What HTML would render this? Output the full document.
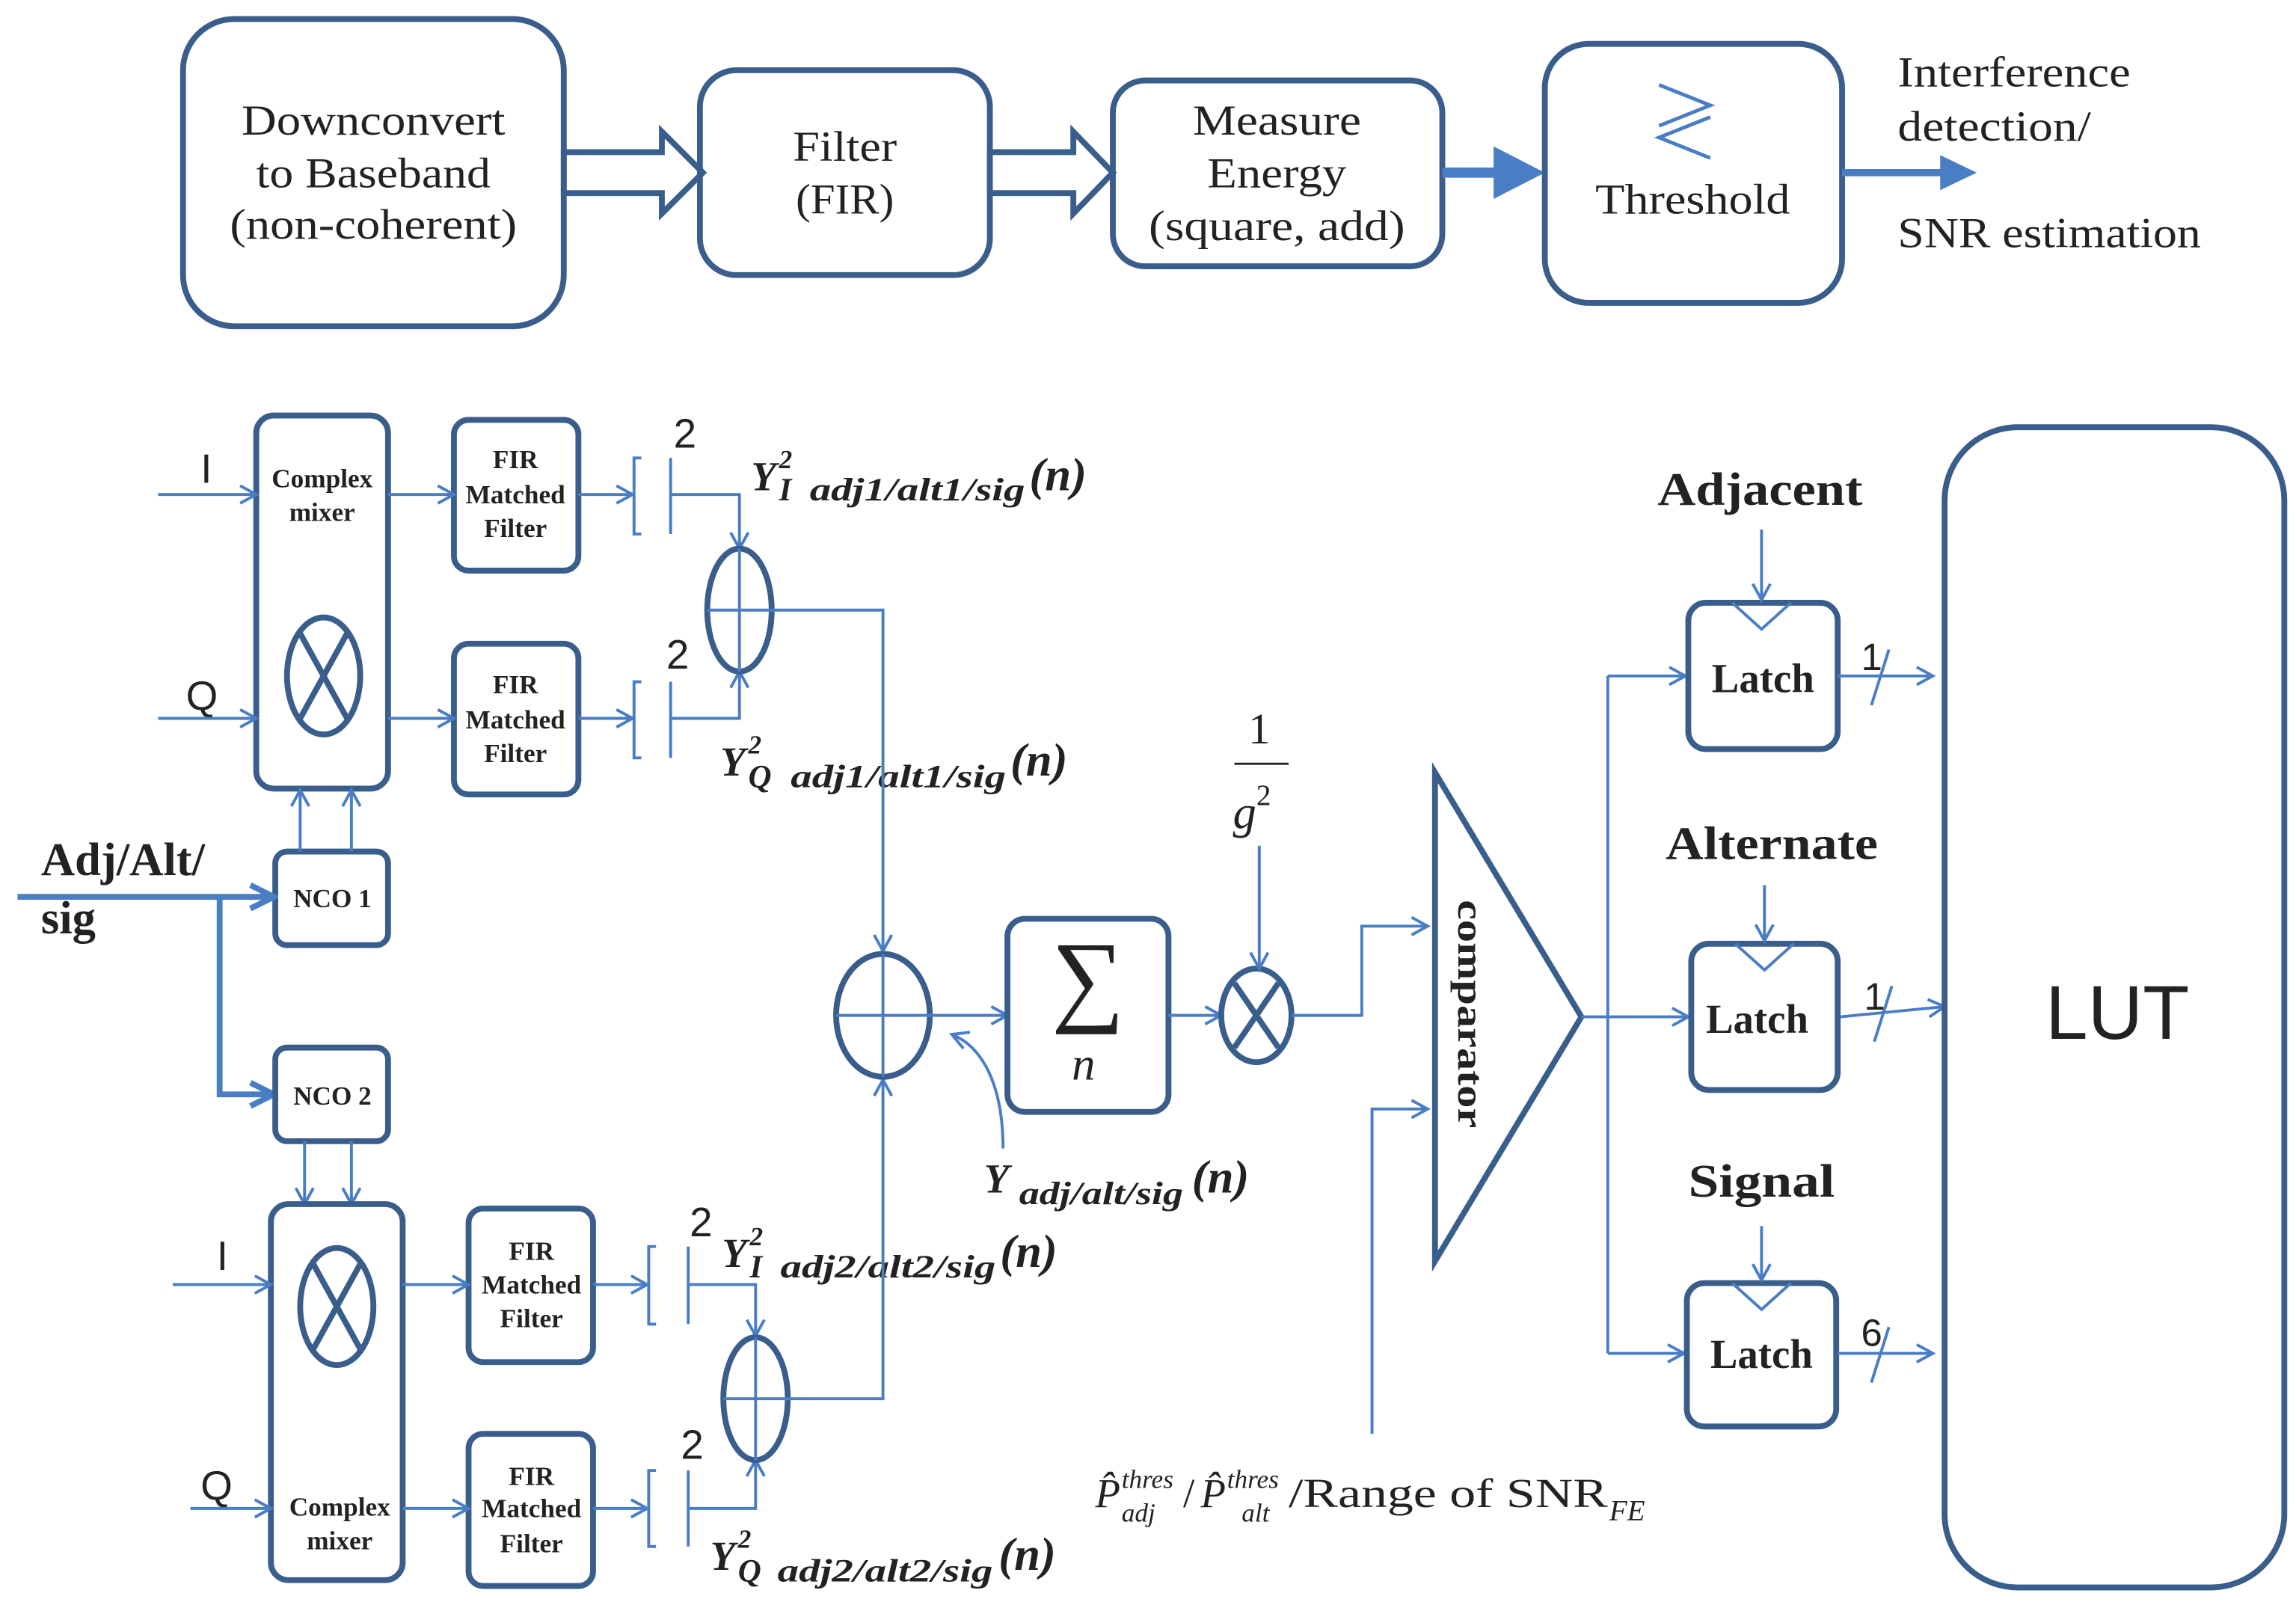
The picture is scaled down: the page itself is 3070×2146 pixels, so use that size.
<!DOCTYPE html>
<html><head><meta charset="utf-8"><style>
html,body{margin:0;padding:0;background:#fff;}
svg{display:block;}
.bx{fill:none;stroke:#3a5e8c;stroke-width:4;}
.ln{fill:none;stroke:#4a7ec4;stroke-width:2;}
.t{font-family:"Liberation Serif",serif;fill:#222;}
.s{font-family:"Liberation Sans",sans-serif;fill:#222;}
.y{font-family:"Liberation Serif",serif;fill:#222;font-weight:bold;font-style:italic;}
</style></head><body>
<svg width="3070" height="2146" viewBox="0 0 1568 1097" preserveAspectRatio="none" xmlns="http://www.w3.org/2000/svg">
<defs>
<marker id="a" markerWidth="14" markerHeight="14" refX="12" refY="7" orient="auto" markerUnits="userSpaceOnUse">
<path d="M1,1 L12,7 L1,13" fill="none" stroke="#4a7ec4" stroke-width="2"/></marker>
<marker id="b" markerWidth="20" markerHeight="20" refX="16" refY="10" orient="auto" markerUnits="userSpaceOnUse">
<path d="M1,2 L17,10 L1,18" fill="none" stroke="#4a7ec4" stroke-width="4"/></marker>
</defs>
<!-- top row -->
<rect class="bx" x="125" y="13" width="260" height="210" rx="35"/>
<text class="t" font-size="29" text-anchor="middle" x="255" y="92" textLength="180" lengthAdjust="spacingAndGlyphs">Downconvert</text>
<text class="t" font-size="29" text-anchor="middle" x="255" y="128" textLength="160" lengthAdjust="spacingAndGlyphs">to Baseband</text>
<text class="t" font-size="29" text-anchor="middle" x="255" y="163" textLength="196" lengthAdjust="spacingAndGlyphs">(non-coherent)</text>
<path class="bx" stroke-width="3" d="M385,104 H452 V90 L480,118 L452,146 V132 H385 Z"/>
<rect class="bx" x="478" y="48" width="198" height="140" rx="25"/>
<text class="t" font-size="29" text-anchor="middle" x="577" y="110" textLength="71" lengthAdjust="spacingAndGlyphs">Filter</text>
<text class="t" font-size="29" text-anchor="middle" x="577" y="146" textLength="67" lengthAdjust="spacingAndGlyphs">(FIR)</text>
<path class="bx" stroke-width="3" d="M676,104 H733 V90 L760,118 L733,146 V132 H676 Z"/>
<rect class="bx" x="760" y="55" width="225" height="127" rx="22"/>
<text class="t" font-size="29" text-anchor="middle" x="872" y="92" textLength="115" lengthAdjust="spacingAndGlyphs">Measure</text>
<text class="t" font-size="29" text-anchor="middle" x="872" y="128" textLength="95" lengthAdjust="spacingAndGlyphs">Energy</text>
<text class="t" font-size="29" text-anchor="middle" x="872" y="164" textLength="175" lengthAdjust="spacingAndGlyphs">(square, add)</text>
<line x1="985" y1="118" x2="1040" y2="118" stroke="#4a7ec4" stroke-width="7"/>
<path d="M1020,100 L1055,118 L1020,136 Z" fill="#4a7ec4"/>
<rect class="bx" x="1055" y="30" width="203" height="177" rx="30"/>
<path d="M1133,58 L1168,72 L1133,86 M1168,80 L1133,94 L1168,108" fill="none" stroke="#4a7ec4" stroke-width="2.5"/>
<text class="t" font-size="29" text-anchor="middle" x="1156" y="146" textLength="133" lengthAdjust="spacingAndGlyphs">Threshold</text>
<line x1="1258" y1="118" x2="1335" y2="118" stroke="#4a7ec4" stroke-width="5"/>
<path d="M1325,106 L1350,118 L1325,130 Z" fill="#4a7ec4"/>
<text class="t" font-size="29" x="1296" y="59" textLength="159" lengthAdjust="spacingAndGlyphs">Interference</text>
<text class="t" font-size="29" x="1296" y="96" textLength="132" lengthAdjust="spacingAndGlyphs">detection/</text>
<text class="t" font-size="29" x="1296" y="169" textLength="207" lengthAdjust="spacingAndGlyphs">SNR estimation</text>

<!-- upper mixer branch -->
<rect class="bx" x="175" y="284" width="90" height="255" rx="12"/>
<text class="t" font-size="18" font-weight="bold" text-anchor="middle" x="220" y="333">Complex</text>
<text class="t" font-size="18" font-weight="bold" text-anchor="middle" x="220" y="356">mixer</text>
<ellipse class="bx" cx="221" cy="462" rx="25" ry="40"/>
<path class="bx" stroke-width="2.5" d="M205,433 L237,491 M237,433 L205,491"/>
<text class="s" font-size="28" x="137" y="330">I</text>
<line class="ln" x1="108" y1="338" x2="175" y2="338" marker-end="url(#a)"/>
<text class="s" font-size="28" x="127" y="485">Q</text>
<line class="ln" x1="108" y1="491" x2="175" y2="491" marker-end="url(#a)"/>

<rect class="bx" x="310" y="287" width="85" height="103" rx="10"/>
<text class="t" font-size="18" font-weight="bold" text-anchor="middle" x="352" y="320">FIR</text>
<text class="t" font-size="18" font-weight="bold" text-anchor="middle" x="352" y="344">Matched</text>
<text class="t" font-size="18" font-weight="bold" text-anchor="middle" x="352" y="367">Filter</text>
<rect class="bx" x="310" y="440" width="85" height="103" rx="10"/>
<text class="t" font-size="18" font-weight="bold" text-anchor="middle" x="352" y="474">FIR</text>
<text class="t" font-size="18" font-weight="bold" text-anchor="middle" x="352" y="498">Matched</text>
<text class="t" font-size="18" font-weight="bold" text-anchor="middle" x="352" y="521">Filter</text>
<line class="ln" x1="265" y1="338" x2="310" y2="338" marker-end="url(#a)"/>
<line class="ln" x1="265" y1="491" x2="310" y2="491" marker-end="url(#a)"/>
<line class="ln" x1="395" y1="338" x2="432" y2="338" marker-end="url(#a)"/>
<line class="ln" x1="395" y1="491" x2="432" y2="491" marker-end="url(#a)"/>
<path class="ln" d="M438,313 H433 V365 H438 M458,313 V365"/>
<path class="ln" d="M438,466 H433 V518 H438 M458,466 V518"/>
<text class="s" font-size="28" x="460" y="306">2</text>
<text class="s" font-size="28" x="455" y="457">2</text>
<polyline class="ln" points="458,338 505,338 505,375" marker-end="url(#a)"/>
<polyline class="ln" points="458,491 505,491 505,459" marker-end="url(#a)"/>
<ellipse class="bx" cx="505" cy="417" rx="22" ry="42"/>
<path class="ln" d="M505,375 V459 M483,417 H527"/>
<!-- Y labels -->
<text class="y" font-size="28" x="513" y="335">Y</text><text class="y" font-size="18" x="532" y="320">2</text><text class="y" font-size="22" x="532" y="342">I</text>
<text class="y" font-size="22" x="553" y="342" textLength="147" lengthAdjust="spacingAndGlyphs">adj1/alt1/sig</text><text class="y" font-size="32" x="703" y="335">(n)</text>
<text class="y" font-size="28" x="492" y="530">Y</text><text class="y" font-size="18" x="511" y="515">2</text><text class="y" font-size="22" x="511" y="538">Q</text>
<text class="y" font-size="22" x="540" y="538" textLength="147" lengthAdjust="spacingAndGlyphs">adj1/alt1/sig</text><text class="y" font-size="32" x="690" y="530">(n)</text>
<polyline class="ln" points="527,417 603,417 603,650" marker-end="url(#a)"/>

<!-- NCOs -->
<rect class="bx" x="188" y="582" width="77" height="64" rx="8"/>
<text class="t" font-size="18" font-weight="bold" text-anchor="middle" x="227" y="620">NCO 1</text>
<line class="ln" x1="205" y1="582" x2="205" y2="540" marker-end="url(#a)"/>
<line class="ln" x1="240" y1="582" x2="240" y2="540" marker-end="url(#a)"/>
<text class="t" font-size="32" font-weight="bold" x="28" y="598">Adj/Alt/</text>
<text class="t" font-size="32" font-weight="bold" x="28" y="638">sig</text>
<line x1="12" y1="613" x2="186" y2="613" stroke="#4a7ec4" stroke-width="4" marker-end="url(#b)"/>
<polyline points="150,613 150,748 186,748" fill="none" stroke="#4a7ec4" stroke-width="4" marker-end="url(#b)"/>
<rect class="bx" x="188" y="716" width="77" height="64" rx="8"/>
<text class="t" font-size="18" font-weight="bold" text-anchor="middle" x="227" y="755">NCO 2</text>
<line class="ln" x1="208" y1="780" x2="208" y2="823" marker-end="url(#a)"/>
<line class="ln" x1="240" y1="780" x2="240" y2="823" marker-end="url(#a)"/>

<!-- lower mixer branch -->
<rect class="bx" x="185" y="823" width="90" height="257" rx="12"/>
<ellipse class="bx" cx="230" cy="893" rx="25" ry="40"/>
<path class="bx" stroke-width="2.5" d="M214,864 L246,922 M246,864 L214,922"/>
<text class="t" font-size="18" font-weight="bold" text-anchor="middle" x="232" y="1036">Complex</text>
<text class="t" font-size="18" font-weight="bold" text-anchor="middle" x="232" y="1059">mixer</text>
<text class="s" font-size="28" x="148" y="868">I</text>
<line class="ln" x1="118" y1="878" x2="185" y2="878" marker-end="url(#a)"/>
<text class="s" font-size="28" x="137" y="1025">Q</text>
<line class="ln" x1="130" y1="1031" x2="185" y2="1031" marker-end="url(#a)"/>
<rect class="bx" x="320" y="826" width="85" height="105" rx="10"/>
<text class="t" font-size="18" font-weight="bold" text-anchor="middle" x="363" y="861">FIR</text>
<text class="t" font-size="18" font-weight="bold" text-anchor="middle" x="363" y="884">Matched</text>
<text class="t" font-size="18" font-weight="bold" text-anchor="middle" x="363" y="907">Filter</text>
<rect class="bx" x="320" y="980" width="85" height="104" rx="10"/>
<text class="t" font-size="18" font-weight="bold" text-anchor="middle" x="363" y="1015">FIR</text>
<text class="t" font-size="18" font-weight="bold" text-anchor="middle" x="363" y="1037">Matched</text>
<text class="t" font-size="18" font-weight="bold" text-anchor="middle" x="363" y="1061">Filter</text>
<line class="ln" x1="275" y1="878" x2="320" y2="878" marker-end="url(#a)"/>
<line class="ln" x1="275" y1="1031" x2="320" y2="1031" marker-end="url(#a)"/>
<line class="ln" x1="405" y1="878" x2="442" y2="878" marker-end="url(#a)"/>
<line class="ln" x1="405" y1="1031" x2="442" y2="1031" marker-end="url(#a)"/>
<path class="ln" d="M448,852 H443 V905 H448 M470,852 V905"/>
<path class="ln" d="M448,1005 H443 V1057 H448 M470,1005 V1057"/>
<text class="s" font-size="28" x="471" y="845">2</text>
<text class="s" font-size="28" x="465" y="997">2</text>
<polyline class="ln" points="470,878 516,878 516,913" marker-end="url(#a)"/>
<polyline class="ln" points="470,1031 516,1031 516,998" marker-end="url(#a)"/>
<ellipse class="bx" cx="516" cy="956" rx="22" ry="42"/>
<path class="ln" d="M516,914 V998 M494,956 H538"/>
<text class="y" font-size="28" x="493" y="866">Y</text><text class="y" font-size="18" x="512" y="851">2</text><text class="y" font-size="22" x="512" y="873">I</text>
<text class="y" font-size="22" x="533" y="873" textLength="147" lengthAdjust="spacingAndGlyphs">adj2/alt2/sig</text><text class="y" font-size="32" x="683" y="866">(n)</text>
<text class="y" font-size="28" x="485" y="1073">Y</text><text class="y" font-size="18" x="504" y="1058">2</text><text class="y" font-size="22" x="504" y="1081">Q</text>
<text class="y" font-size="22" x="531" y="1081" textLength="147" lengthAdjust="spacingAndGlyphs">adj2/alt2/sig</text><text class="y" font-size="32" x="682" y="1073">(n)</text>
<polyline class="ln" points="538,956 603,956 603,738" marker-end="url(#a)"/>

<!-- summing -->
<ellipse class="bx" cx="603" cy="694" rx="32" ry="42"/>
<path class="ln" d="M603,652 V736 M571,694 H635"/>
<line class="ln" x1="635" y1="694" x2="688" y2="694" marker-end="url(#a)"/>
<rect class="bx" x="688" y="628" width="110" height="132" rx="12"/>
<text class="t" font-size="70" text-anchor="middle" x="743" y="692">∑</text>
<text class="t" font-size="32" font-style="italic" text-anchor="middle" x="740" y="738">n</text>
<path class="ln" d="M685,785 C685,740 670,715 650,707" marker-end="url(#a)"/>
<text class="y" font-size="28" x="672" y="815">Y</text>
<text class="y" font-size="22" x="696" y="823" textLength="112" lengthAdjust="spacingAndGlyphs">adj/alt/sig</text>
<text class="y" font-size="32" x="814" y="815">(n)</text>
<line class="ln" x1="798" y1="694" x2="834" y2="694" marker-end="url(#a)"/>
<ellipse class="bx" cx="858" cy="694" rx="24" ry="32"/>
<path class="bx" stroke-width="2.5" d="M843,672 L873,716 M873,672 L843,716"/>
<text class="t" font-size="30" text-anchor="middle" x="860" y="508">1</text>
<line x1="843" y1="522" x2="880" y2="522" stroke="#222" stroke-width="1.5"/>
<text class="t" font-size="32" font-style="italic" x="842" y="566">g</text><text class="t" font-size="20" x="858" y="550">2</text>
<line class="ln" x1="860" y1="578" x2="860" y2="662" marker-end="url(#a)"/>
<polyline class="ln" points="882,694 930,694 930,633 975,633" marker-end="url(#a)"/>
<polyline class="ln" points="937,980 937,758 975,758" marker-end="url(#a)"/>
<polygon class="bx" points="980,528 980,862 1080,695"/>
<text class="t" font-size="25" font-weight="bold" transform="translate(996,693) rotate(90)" text-anchor="middle" textLength="156" lengthAdjust="spacingAndGlyphs">comparator</text>
<!-- threshold label -->
<text class="t" font-size="28" font-style="italic" x="748" y="1030">P̂</text>
<text class="t" font-size="18" font-style="italic" x="766" y="1017">thres</text>
<text class="t" font-size="18" font-style="italic" x="766" y="1040">adj</text>
<text class="t" font-size="28" x="808" y="1030">/</text>
<text class="t" font-size="28" font-style="italic" x="820" y="1030">P̂</text>
<text class="t" font-size="18" font-style="italic" x="838" y="1017">thres</text>
<text class="t" font-size="18" font-style="italic" x="848" y="1040">alt</text>
<text class="t" font-size="28" x="880" y="1030" textLength="218" lengthAdjust="spacingAndGlyphs">/Range of SNR</text>
<text class="t" font-size="20" font-style="italic" x="1099" y="1039">FE</text>

<!-- latches -->
<line class="ln" x1="1080" y1="695" x2="1153" y2="695" marker-end="url(#a)"/>
<line class="ln" x1="1098" y1="462" x2="1098" y2="925"/>
<line class="ln" x1="1098" y1="462" x2="1151" y2="462" marker-end="url(#a)"/>
<line class="ln" x1="1098" y1="925" x2="1150" y2="925" marker-end="url(#a)"/>
<rect class="bx" x="1153" y="412" width="102" height="100" rx="12"/>
<rect class="bx" x="1155" y="645" width="100" height="100" rx="12"/>
<rect class="bx" x="1152" y="877" width="102" height="98" rx="12"/>
<path class="ln" d="M1183,412 L1203,430 L1223,412 M1185,645 L1205,663 L1225,645 M1183,877 L1203,895 L1223,877"/>
<text class="t" font-size="28" font-weight="bold" text-anchor="middle" x="1204" y="473">Latch</text>
<text class="t" font-size="28" font-weight="bold" text-anchor="middle" x="1200" y="706">Latch</text>
<text class="t" font-size="28" font-weight="bold" text-anchor="middle" x="1203" y="935">Latch</text>
<text class="t" font-size="32" font-weight="bold" text-anchor="middle" x="1202" y="345" textLength="140" lengthAdjust="spacingAndGlyphs">Adjacent</text>
<text class="t" font-size="32" font-weight="bold" text-anchor="middle" x="1210" y="587" textLength="145" lengthAdjust="spacingAndGlyphs">Alternate</text>
<text class="t" font-size="32" font-weight="bold" text-anchor="middle" x="1203" y="818" textLength="100" lengthAdjust="spacingAndGlyphs">Signal</text>
<line class="ln" x1="1203" y1="362" x2="1203" y2="410" marker-end="url(#a)"/>
<line class="ln" x1="1205" y1="605" x2="1205" y2="643" marker-end="url(#a)"/>
<line class="ln" x1="1203" y1="838" x2="1203" y2="875" marker-end="url(#a)"/>
<line class="ln" x1="1255" y1="462" x2="1320" y2="462" marker-end="url(#a)"/>
<line class="ln" x1="1257" y1="695" x2="1328" y2="688" marker-end="url(#a)"/>
<line class="ln" x1="1255" y1="925" x2="1320" y2="925" marker-end="url(#a)"/>
<path class="ln" d="M1278,482 L1290,444 M1280,712 L1292,674 M1278,945 L1290,907"/>
<text class="s" font-size="26" x="1271" y="458">1</text>
<text class="s" font-size="26" x="1273" y="690">1</text>
<text class="s" font-size="26" x="1271" y="920">6</text>
<rect class="bx" x="1328" y="292" width="232" height="793" rx="50"/>
<text class="s" font-size="52" text-anchor="middle" x="1446" y="710">LUT</text>
</svg>
</body></html>
